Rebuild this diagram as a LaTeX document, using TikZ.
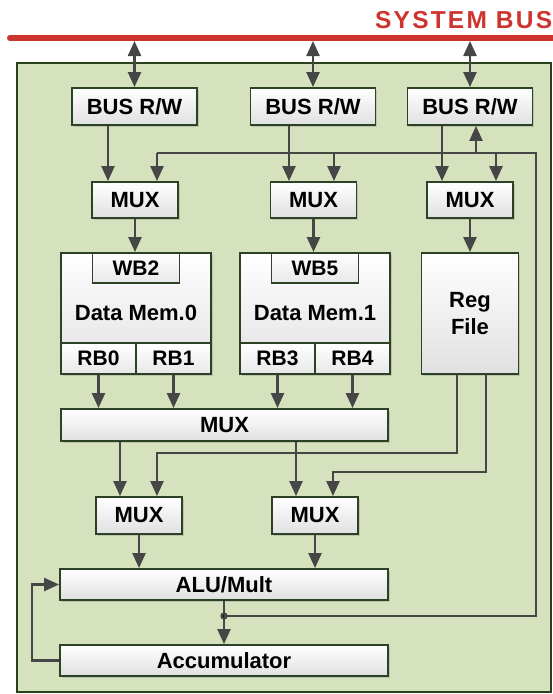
\documentclass[tikz,border=0pt]{standalone}
\usepackage{fontspec}
\setmainfont{Liberation Sans}
\newfontfamily\busfont[LetterSpace=9]{Liberation Sans}
\usetikzlibrary{arrows.meta,shadows}

\definecolor{panelfill}{RGB}{214,226,190}
\definecolor{panelline}{RGB}{40,66,28}
\definecolor{boxline}{RGB}{44,66,36}
\definecolor{wire}{RGB}{70,70,70}
\definecolor{busred}{RGB}{206,52,46}

\begin{document}
\begin{tikzpicture}[x=1pt,y=-1pt,
  panel/.style={draw=panelline, line width=2.4pt, fill=panelfill, inner sep=0pt},
  blk/.style={draw=boxline, line width=1.9pt, top color=white, bottom color=black!12,
    drop shadow={opacity=0.3, shadow xshift=1.6pt, shadow yshift=-1.6pt},
    inner sep=0pt, font=\fontsize{22}{24}\selectfont\bfseries},
  sub/.style={draw=boxline, line width=1.9pt, top color=white, bottom color=black!9,
    inner sep=0pt, font=\fontsize{21}{24}\selectfont\bfseries},
  lbl/.style={inner sep=0pt, align=center, font=\fontsize{22}{27}\selectfont\bfseries},
  wire/.style={draw=wire, line width=2.4pt},
  arr/.style={wire, -{Triangle[length=15pt,width=13pt]}},
  both/.style={wire, {Triangle[length=15pt,width=13pt]}-{Triangle[length=15pt,width=13pt]}}
]
\useasboundingbox (0,0) rectangle (553,694);
\clip (0,0) rectangle (553,694);
\fill[white] (0,0) rectangle (553,694);

% processor panel
\node[panel, minimum width=534, minimum height=629] (core) at (284,377.5) {};

% system bus
\coordinate (busL) at (10,38);
\coordinate (busR) at (575,38);
\draw[busred, line width=6pt, line cap=round] (busL) -- (busR);
\node[anchor=base west, text=busred, inner sep=0pt,
  font=\busfont\fontsize{24.5}{27}\selectfont\bfseries] (busname) at (375,28.5) {SYSTEM BUS};

% bus interfaces
\node[blk, minimum width=125, minimum height=37] (bus1) at (134.5,106.5) {BUS R/W};
\node[blk, minimum width=125, minimum height=37] (bus2) at (313,106.5) {BUS R/W};
\node[blk, minimum width=125, minimum height=37] (bus3) at (470,106.5) {BUS R/W};

% input multiplexers
\node[blk, minimum width=86, minimum height=36] (mux1) at (135,200) {MUX};
\node[blk, minimum width=86, minimum height=36] (mux2) at (313.5,200) {MUX};
\node[blk, minimum width=86, minimum height=36] (mux3) at (470,200) {MUX};

% data memory 0
\node[blk, minimum width=150, minimum height=121] (mem0) at (136,313.5) {};
\node[sub, minimum width=87, minimum height=30, anchor=north] (wb2) at (mem0.north) {WB2};
\node[sub, minimum width=75, minimum height=31, anchor=south west] (rb0) at (mem0.south west) {RB0};
\node[sub, minimum width=75, minimum height=31, anchor=south east] (rb1) at (mem0.south east) {RB1};
\node[lbl] (mem0name) at (136,313) {Data Mem.0};

% data memory 1
\node[blk, minimum width=150, minimum height=121] (mem1) at (315,313.5) {};
\node[sub, minimum width=87, minimum height=30, anchor=north] (wb5) at (mem1.north) {WB5};
\node[sub, minimum width=75, minimum height=31, anchor=south west] (rb3) at (mem1.south west) {RB3};
\node[sub, minimum width=75, minimum height=31, anchor=south east] (rb4) at (mem1.south east) {RB4};
\node[lbl] (mem1name) at (315,313) {Data Mem.1};

% register file
\node[blk, minimum width=97, minimum height=121, lbl] (reg) at (470,313.5) {Reg\\File};

% operand selection
\node[blk, minimum width=327, minimum height=32] (bigmux) at (224.5,425) {MUX};
\node[blk, minimum width=86, minimum height=37] (muxa) at (139,515.5) {MUX};
\node[blk, minimum width=86, minimum height=37] (muxb) at (315,515.5) {MUX};

% datapath
\node[blk, minimum width=328, minimum height=31] (alu) at (224,584.5) {ALU/Mult};
\node[blk, minimum width=328, minimum height=31] (acc) at (224,660.5) {Accumulator};

% --- connectors ---
% system bus taps
\coordinate (tap1) at (134.5,41);
\coordinate (tap2) at (313,41);
\coordinate (tap3) at (470,41);
\draw[both] (tap1) -- (bus1.north);
\draw[both] (tap2) -- (bus2.north);
\draw[both] (tap3) -- (bus3.north);

% bus interface to multiplexer
\coordinate (b1) at (108,0);
\coordinate (b2) at (289,0);
\coordinate (b3) at (442,0);
\draw[arr] (b1 |- bus1.south) -- (b1 |- mux1.north);
\draw[arr] (b2 |- bus2.south) -- (b2 |- mux2.north);
\draw[arr] (b3 |- bus3.south) -- (b3 |- mux3.north);

% multiplexer to storage
\draw[arr] (mux1.south) -- (mux1.south |- mem0.north);
\draw[arr] (mux2.south) -- (mux2.south |- mem1.north);
\draw[arr] (mux3.south) -- (reg.north);

% read buses into the wide multiplexer
\draw[arr] (rb0.south) -- (rb0.south |- bigmux.north);
\draw[arr] (rb1.south) -- (rb1.south |- bigmux.north);
\draw[arr] (rb3.south) -- (rb3.south |- bigmux.north);
\draw[arr] (rb4.south) -- (rb4.south |- bigmux.north);

% wide multiplexer to operand multiplexers
\coordinate (m1) at (120,0);
\coordinate (m2) at (296,0);
\draw[arr] (m1 |- bigmux.south) -- (m1 |- muxa.north);
\draw[arr] (m2 |- bigmux.south) -- (m2 |- muxb.north);

% register file outputs
\coordinate (ra) at (457,453);
\coordinate (ia) at (157,453);
\coordinate (rb) at (486,472);
\coordinate (ib) at (333,472);
\draw[arr] (ra |- reg.south) -- (ra) -- (ia) -- (ia |- muxa.north);
\draw[arr] (rb |- reg.south) -- (rb) -- (ib) -- (ib |- muxb.north);

% operands into the ALU
\draw[arr] (muxa.south) -- (muxa.south |- alu.north);
\draw[arr] (muxb.south) -- (muxb.south |- alu.north);

% result path
\coordinate (jn) at (224,616);
\draw[arr] (alu.south) -- (acc.north);
\fill[wire] (jn) circle (2.4pt);

% accumulator loop back into the ALU
\coordinate (lp) at (32,0);
\draw[arr] (acc.west) -- (lp |- acc.west) -- (lp |- alu.west) -- (alu.west);

% write-back path to memories and bus
\coordinate (fbA) at (157,153);
\coordinate (fbB) at (334,153);
\coordinate (fbC) at (476,153);
\coordinate (fbD) at (496,153);
\coordinate (fbE) at (536,153);
\coordinate (fbF) at (536,616);
\draw[wire] (jn) -- (fbF) -- (fbE) -- (fbA);
\draw[arr] (fbA) -- (fbA |- mux1.north);
\draw[arr] (fbB) -- (fbB |- mux2.north);
\draw[arr] (fbD) -- (fbD |- mux3.north);
\draw[arr] (fbC) -- (fbC |- bus3.south);
\end{tikzpicture}
\end{document}
